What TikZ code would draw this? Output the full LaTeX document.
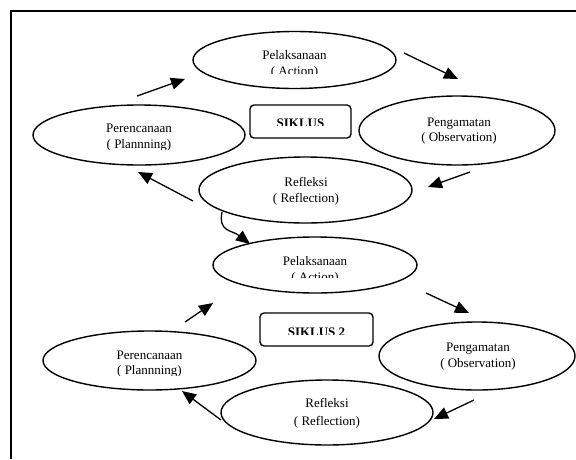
\documentclass[tikz,border=0pt]{standalone}
\usepackage{fontspec}
\setmainfont{Liberation Serif}
\usetikzlibrary{arrows.meta,shapes.geometric}
\begin{document}
\begin{tikzpicture}[x=1pt,y=-1pt,
  lbl/.style={anchor=base,inner sep=0pt,font=\fontsize{13}{16}\selectfont},
  blbl/.style={anchor=base,inner sep=0pt,font=\fontsize{13}{16}\selectfont\bfseries},
  phase/.style={draw,ellipse,line width=1.4pt,inner sep=0pt,outer sep=0pt},
  cyclebox/.style={draw,rounded corners=4pt,line width=1.4pt,inner sep=0pt,outer sep=0pt,minimum width=101pt,minimum height=33pt},
  arr/.style={line width=1.3pt,-{Triangle[length=14pt,width=12pt]}},
  frameline/.style={line width=1.3pt}]
\useasboundingbox (0,0) rectangle (576,459);
% frame
\coordinate (fbl) at (11,459);
\coordinate (ftl) at (11,11);
\coordinate (ftr) at (576,11);
\draw[frameline] (fbl) -- (ftl) -- (ftr);

% ===== cycle 1 =====
\node[phase,minimum width=203pt,minimum height=57pt] (pel1) at (294.5,60) {};
\node[phase,minimum width=212pt,minimum height=60pt] (plan1) at (139,135) {};
\node[phase,minimum width=196pt,minimum height=69pt] (obs1) at (457,130.5) {};
\node[phase,minimum width=213pt,minimum height=66pt] (ref1) at (305.5,190) {};
\node[cyclebox] (box1) at (300.5,121.5) {};

\node[lbl] (pel1a) at (294.5,59.5) {Pelaksanaan};
\begin{scope}
  \clip (230,60) rectangle (360,73.5);
  \node[lbl] (pel1b) at (294.5,75.5) {( Action)};
\end{scope}
\begin{scope}
  \clip (260,106) rectangle (345,125.8);
  \node[blbl] (box1t) at (300.5,127.5) {SIKLUS};
\end{scope}
\node[lbl] (plan1a) at (139,132.5) {Perencanaan};
\begin{scope}
  \clip (80,135) rectangle (200,149.5);
  \node[lbl] (plan1b) at (139,148.5) {( Plannning)};
\end{scope}
\node[lbl] (obs1a) at (459,126.5) {Pengamatan};
\node[lbl] (obs1b) at (459,141.5) {( Observation)};
\node[lbl] (ref1a) at (306,186.5) {Refleksi};
\node[lbl] (ref1b) at (306,202) {( Reflection)};

\coordinate (a1s) at (137,96);  \coordinate (a1e) at (185,79);
\coordinate (a2s) at (404,53);  \coordinate (a2e) at (458,79);
\coordinate (a3s) at (470,172); \coordinate (a3e) at (428,187);
\coordinate (a4s) at (193,201); \coordinate (a4e) at (138,172);
\draw[arr] (a1s) -- (a1e);
\draw[arr] (a2s) -- (a2e);
\draw[arr] (a3s) -- (a3e);
\draw[arr] (a4s) -- (a4e);

% link between cycles
\coordinate (lks) at (222,212);
\coordinate (lke) at (250,244);
\draw[arr] (lks) .. controls (218,232) and (232,230) .. (lke);

% ===== cycle 2 =====
\node[phase,minimum width=204pt,minimum height=56pt] (pel2) at (315,265) {};
\node[phase,minimum width=213pt,minimum height=59pt] (plan2) at (149.5,360.5) {};
\node[phase,minimum width=196pt,minimum height=68pt] (obs2) at (477,356) {};
\node[phase,minimum width=212pt,minimum height=65pt] (ref2) at (327,412.5) {};
\node[cyclebox,minimum width=113pt] (box2) at (316.5,329.5) {};

\node[lbl] (pel2a) at (315,265.5) {Pelaksanaan};
\begin{scope}
  \clip (250,266) rectangle (380,277.5);
  \node[lbl] (pel2b) at (315,281) {( Action)};
\end{scope}
\begin{scope}
  \clip (265,314) rectangle (370,334.5);
  \node[blbl] (box2t) at (316.5,336) {SIKLUS 2};
\end{scope}
\node[lbl] (plan2a) at (149.5,359.5) {Perencanaan};
\begin{scope}
  \clip (90,362) rectangle (210,375);
  \node[lbl] (plan2b) at (149.5,374.5) {( Plannning)};
\end{scope}
\node[lbl] (obs2a) at (478,351.5) {Pengamatan};
\node[lbl] (obs2b) at (478,367.5) {( Observation)};
\node[lbl] (ref2a) at (327,407.5) {Refleksi};
\node[lbl] (ref2b) at (327,425.5) {( Reflection)};

\coordinate (b1s) at (185,322); \coordinate (b1e) at (213,303);
\coordinate (b2s) at (426,293); \coordinate (b2e) at (469,313);
\coordinate (b3s) at (474,400); \coordinate (b3e) at (434,419);
\coordinate (b4s) at (221,420); \coordinate (b4e) at (182,391);
\draw[arr] (b1s) -- (b1e);
\draw[arr] (b2s) -- (b2e);
\draw[arr] (b3s) -- (b3e);
\draw[arr] (b4s) -- (b4e);
\end{tikzpicture}
\end{document}
